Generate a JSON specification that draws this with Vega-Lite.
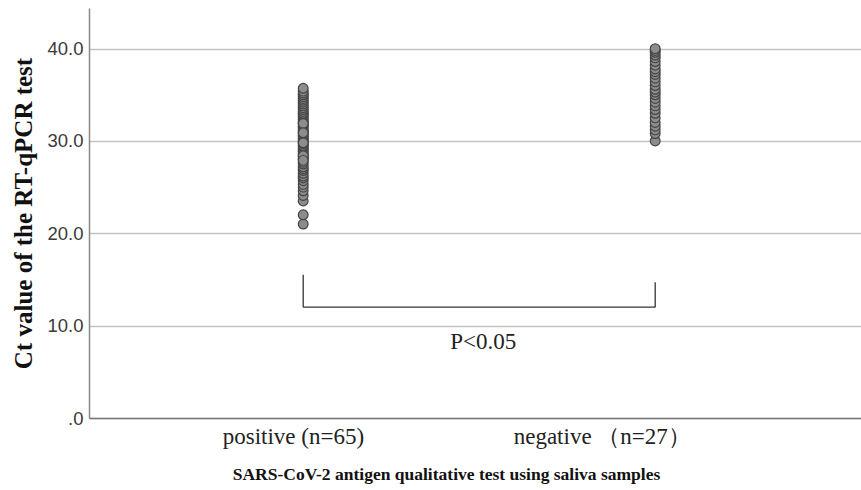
{
  "$schema": "https://vega.github.io/schema/vega-lite/v6.json",
  "width": 772,
  "height": 410,
  "autosize": {"type": "none"},
  "padding": {"left": 89, "top": 8, "right": 0, "bottom": 72},
  "background": "white",
  "config": {"view": {"stroke": null}, "font": "Liberation Serif"},
  "datasets": {
    "points": [
      {"group": "positive (n=65)", "ct": 21.0}, {"group": "positive (n=65)", "ct": 22.0}, {"group": "positive (n=65)", "ct": 23.5},
      {"group": "positive (n=65)", "ct": 24.1}, {"group": "positive (n=65)", "ct": 24.6}, {"group": "positive (n=65)", "ct": 25.0},
      {"group": "positive (n=65)", "ct": 25.3}, {"group": "positive (n=65)", "ct": 25.7}, {"group": "positive (n=65)", "ct": 26.0},
      {"group": "positive (n=65)", "ct": 26.2}, {"group": "positive (n=65)", "ct": 26.5}, {"group": "positive (n=65)", "ct": 26.8},
      {"group": "positive (n=65)", "ct": 27.0}, {"group": "positive (n=65)", "ct": 27.2}, {"group": "positive (n=65)", "ct": 27.5},
      {"group": "positive (n=65)", "ct": 27.7}, {"group": "positive (n=65)", "ct": 28.0}, {"group": "positive (n=65)", "ct": 28.1},
      {"group": "positive (n=65)", "ct": 28.3}, {"group": "positive (n=65)", "ct": 28.5}, {"group": "positive (n=65)", "ct": 28.7},
      {"group": "positive (n=65)", "ct": 28.9}, {"group": "positive (n=65)", "ct": 29.0}, {"group": "positive (n=65)", "ct": 29.2},
      {"group": "positive (n=65)", "ct": 29.4}, {"group": "positive (n=65)", "ct": 29.5}, {"group": "positive (n=65)", "ct": 29.7},
      {"group": "positive (n=65)", "ct": 29.9}, {"group": "positive (n=65)", "ct": 30.0}, {"group": "positive (n=65)", "ct": 30.2},
      {"group": "positive (n=65)", "ct": 30.3}, {"group": "positive (n=65)", "ct": 30.5}, {"group": "positive (n=65)", "ct": 30.6},
      {"group": "positive (n=65)", "ct": 30.8}, {"group": "positive (n=65)", "ct": 31.0}, {"group": "positive (n=65)", "ct": 31.1},
      {"group": "positive (n=65)", "ct": 31.3}, {"group": "positive (n=65)", "ct": 31.5}, {"group": "positive (n=65)", "ct": 31.6},
      {"group": "positive (n=65)", "ct": 31.8}, {"group": "positive (n=65)", "ct": 32.0}, {"group": "positive (n=65)", "ct": 32.1},
      {"group": "positive (n=65)", "ct": 32.3}, {"group": "positive (n=65)", "ct": 32.5}, {"group": "positive (n=65)", "ct": 32.7},
      {"group": "positive (n=65)", "ct": 32.9}, {"group": "positive (n=65)", "ct": 33.0}, {"group": "positive (n=65)", "ct": 33.2},
      {"group": "positive (n=65)", "ct": 33.4}, {"group": "positive (n=65)", "ct": 33.6}, {"group": "positive (n=65)", "ct": 33.8},
      {"group": "positive (n=65)", "ct": 34.0}, {"group": "positive (n=65)", "ct": 34.2}, {"group": "positive (n=65)", "ct": 34.4},
      {"group": "positive (n=65)", "ct": 34.6}, {"group": "positive (n=65)", "ct": 34.8}, {"group": "positive (n=65)", "ct": 35.0},
      {"group": "positive (n=65)", "ct": 35.2}, {"group": "positive (n=65)", "ct": 35.4}, {"group": "positive (n=65)", "ct": 35.7},
      {"group": "positive (n=65)", "ct": 28.4}, {"group": "positive (n=65)", "ct": 29.8}, {"group": "positive (n=65)", "ct": 31.9},
      {"group": "positive (n=65)", "ct": 27.9}, {"group": "positive (n=65)", "ct": 30.9},
      {"group": "negative （n=27）", "ct": 30.0}, {"group": "negative （n=27）", "ct": 30.8}, {"group": "negative （n=27）", "ct": 31.2},
      {"group": "negative （n=27）", "ct": 31.6}, {"group": "negative （n=27）", "ct": 32.0}, {"group": "negative （n=27）", "ct": 32.5},
      {"group": "negative （n=27）", "ct": 33.0}, {"group": "negative （n=27）", "ct": 33.4}, {"group": "negative （n=27）", "ct": 33.8},
      {"group": "negative （n=27）", "ct": 34.2}, {"group": "negative （n=27）", "ct": 34.6}, {"group": "negative （n=27）", "ct": 35.0},
      {"group": "negative （n=27）", "ct": 35.3}, {"group": "negative （n=27）", "ct": 35.6}, {"group": "negative （n=27）", "ct": 36.0},
      {"group": "negative （n=27）", "ct": 36.4}, {"group": "negative （n=27）", "ct": 36.8}, {"group": "negative （n=27）", "ct": 37.2},
      {"group": "negative （n=27）", "ct": 37.5}, {"group": "negative （n=27）", "ct": 37.8}, {"group": "negative （n=27）", "ct": 38.2},
      {"group": "negative （n=27）", "ct": 38.6}, {"group": "negative （n=27）", "ct": 39.0}, {"group": "negative （n=27）", "ct": 39.3},
      {"group": "negative （n=27）", "ct": 39.6}, {"group": "negative （n=27）", "ct": 39.8}, {"group": "negative （n=27）", "ct": 40.0}
    ],
    "legs": [
      {"group": "positive (n=65)", "ct": 12.0, "ct2": 15.5},
      {"group": "negative （n=27）", "ct": 12.0, "ct2": 14.7}
    ],
    "bar": [
      {"group": "positive (n=65)", "group2": "negative （n=27）", "ct": 12.0}
    ],
    "note": [
      {"group": "positive (n=65)", "ct": 8.2, "text": "P<0.05"}
    ]
  },
  "encoding": {
    "x": {
      "field": "group",
      "type": "nominal",
      "sort": null,
      "scale": {"type": "point", "domain": ["positive (n=65)", "negative （n=27）"], "padding": 0.5966, "align": 0.51},
      "axis": {
        "title": "SARS-CoV-2 antigen qualitative test using saliva samples",
        "titleFont": "Liberation Serif",
        "titleFontSize": 17.5,
        "titleFontWeight": "bold",
        "titleColor": "#111",
        "titleX": 357,
        "titleY": 61,
        "titleBaseline": "alphabetic",
        "titleAnchor": "middle",
        "labelFont": "Liberation Serif",
        "labelFontSize": 23,
        "labelColor": "#222",
        "labelAngle": 0,
        "labelAlign": "left",
        "labelOffset": {"condition": {"test": "datum.value == 'negative （n=27）'", "value": -142}, "value": -81},
        "labelPadding": 7,
        "labelLimit": 300,
        "ticks": false,
        "grid": false,
        "domainColor": "#777",
        "domainWidth": 1.5,
        "zindex": 1
      }
    },
    "y": {
      "field": "ct",
      "type": "quantitative",
      "scale": {"domain": [0, 44.4], "nice": false, "zero": false},
      "axis": {
        "title": "Ct value of the RT-qPCR test",
        "titleFont": "Liberation Serif",
        "titleFontSize": 25,
        "titleFontWeight": "bold",
        "titleColor": "#111",
        "titlePadding": 10,
        "values": [0, 10, 20, 30, 40],
        "labelExpr": "datum.value == 0 ? '.0' : format(datum.value, '.1f')",
        "labelFont": "Liberation Sans",
        "labelFontSize": 18.5,
        "labelColor": "#3a3a3a",
        "labelPadding": 6,
        "ticks": false,
        "grid": true,
        "gridColor": "#c4c4c4",
        "gridWidth": 1.3,
        "domainColor": "#888",
        "domainWidth": 1.5
      }
    }
  },
  "layer": [
    {
      "data": {"name": "legs"},
      "mark": {"type": "rule", "color": "#333", "strokeWidth": 1.3},
      "encoding": {"y2": {"field": "ct2"}}
    },
    {
      "data": {"name": "bar"},
      "mark": {"type": "rule", "color": "#333", "strokeWidth": 1.3},
      "encoding": {"x2": {"field": "group2"}}
    },
    {
      "data": {"name": "note"},
      "mark": {"type": "text", "font": "Liberation Serif", "fontSize": 23, "color": "#222", "dx": 180, "baseline": "middle", "align": "center"},
      "encoding": {"text": {"field": "text"}}
    },
    {
      "data": {"name": "points"},
      "mark": {"type": "point", "shape": "circle", "filled": true, "size": 95, "fill": "#8c8c8c", "stroke": "#444", "strokeWidth": 1.2, "opacity": 1}
    }
  ]
}
